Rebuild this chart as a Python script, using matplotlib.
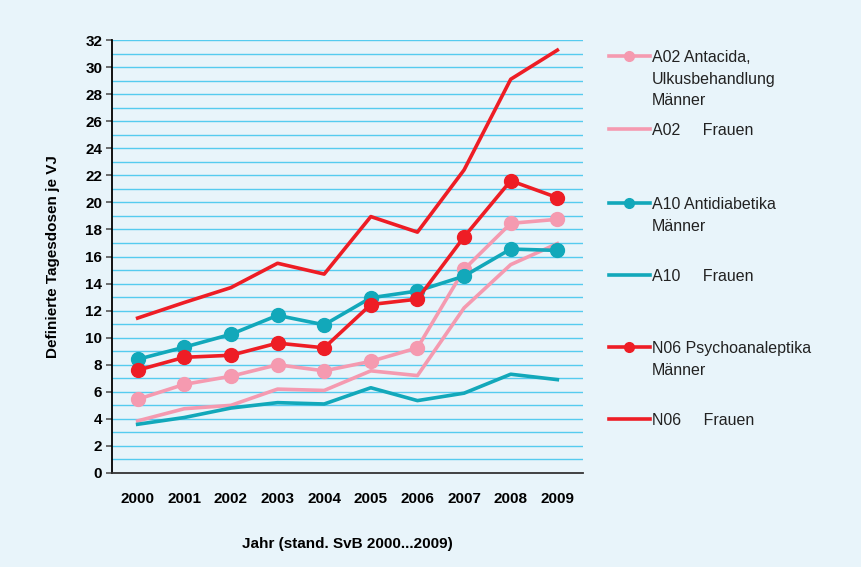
import numpy as np
import matplotlib
matplotlib.use("Agg")
import matplotlib.pyplot as plt
from matplotlib.lines import Line2D

plt.rcParams['font.family'] = ['Liberation Sans', 'DejaVu Sans']

# ---------------------------- data ----------------------------
years = [2000, 2001, 2002, 2003, 2004, 2005, 2006, 2007, 2008, 2009]

a02_maenner = [5.45, 6.55, 7.15, 8.0, 7.55, 8.25, 9.25, 15.05, 18.45, 18.75]
a02_frauen = [3.85, 4.75, 5.0, 6.2, 6.1, 7.55, 7.2, 12.2, 15.4, 16.95]
a10_maenner = [8.4, 9.3, 10.25, 11.65, 10.95, 12.95, 13.45, 14.55, 16.55, 16.45]
a10_frauen = [3.6, 4.1, 4.8, 5.2, 5.1, 6.3, 5.35, 5.9, 7.3, 6.9]
n06_maenner = [7.6, 8.55, 8.7, 9.6, 9.25, 12.45, 12.85, 17.45, 21.6, 20.35]
n06_frauen = [11.45, 12.6, 13.7, 15.5, 14.7, 18.95, 17.8, 22.4, 29.1, 31.25]

legend_labels = ["A02 Antacida,\nUlkusbehandlung\nMänner", "A02     Frauen",
                 "A10 Antidiabetika\nMänner", "A10     Frauen",
                 "N06 Psychoanaleptika\nMänner", "N06     Frauen"]

PINK = "#F59AB0"
TEAL = "#12A8BA"
RED = "#EE1D25"
BG = "#E8F4FA"
GRID = "#55CBEF"

# ---------------------------- plot ----------------------------
fig = plt.figure(figsize=(8.62, 5.67), dpi=100, facecolor=BG)
ax = fig.add_axes([112/862, 1-473/567, (583-112)/862, (473-40)/567])
ax.set_facecolor(BG)

x = np.arange(len(years))
lw = 2.6
ms = 10

series = [
    (a02_maenner, PINK, True),
    (a02_frauen, PINK, False),
    (a10_maenner, TEAL, True),
    (a10_frauen, TEAL, False),
    (n06_maenner, RED, True),
    (n06_frauen, RED, False),
]

for vals, col, mk in series:
    if mk:
        ax.plot(x, vals, color=col, lw=lw, marker="o", ms=ms, zorder=4)
    else:
        ax.plot(x, vals, color=col, lw=lw, zorder=3)

# gridlines every 1 unit
for v in range(1, 33):
    ax.axhline(v, color=GRID, lw=1.0, zorder=1)

ax.set_ylim(0, 32)
ax.set_xlim(-0.55, 9.55)
ax.set_yticks(range(0, 33, 2))
ax.set_yticklabels([str(v) for v in range(0, 33, 2)], fontweight="bold", fontsize=11)
ax.set_xticks(x)
ax.set_xticklabels([str(y) for y in years], fontweight="bold", fontsize=11)
ax.tick_params(axis="y", length=4, width=1.2, color="#555555", pad=3)
ax.tick_params(axis="x", length=0, pad=14)

for s in ["top", "right"]:
    ax.spines[s].set_visible(False)
ax.spines["left"].set_linewidth(1.3)
ax.spines["bottom"].set_linewidth(1.3)
ax.spines["bottom"].set_color("#333333")

ax.set_ylabel("Definierte Tagesdosen je VJ", fontweight="bold", fontsize=11, labelpad=18)
ax.set_xlabel("Jahr (stand. SvB 2000...2009)", fontweight="bold", fontsize=11, labelpad=22)

# ---------------------------- legend ----------------------------
leg_y = [56, 129, 203, 275, 347, 419]
for (vals, col, mk), lab, yy in zip(series, legend_labels, leg_y):
    yf = 1 - yy / 567
    ln = Line2D([609/862, 650/862], [yf, yf], transform=fig.transFigure,
                color=col, lw=lw)
    fig.add_artist(ln)
    if mk:
        dot = Line2D([629.5/862], [yf], transform=fig.transFigure,
                     color=col, marker="o", ms=7)
        fig.add_artist(dot)
    fig.text(652/862, yf + 6/567, lab, fontsize=11.5, va="top", ha="left",
             color="#222222", linespacing=1.55)

fig.savefig("out.png", dpi=100, facecolor=BG)
